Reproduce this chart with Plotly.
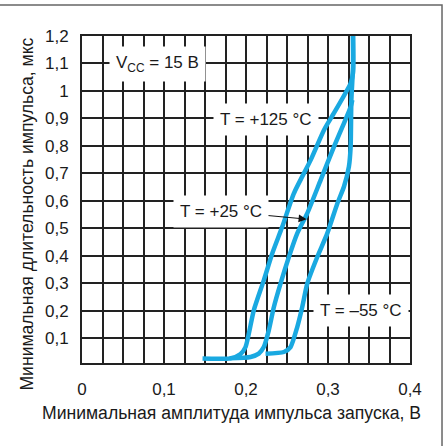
import plotly.graph_objects as go

# Data
x_125 = [0.147, 0.181, 0.193, 0.1994, 0.2095, 0.2217, 0.232, 0.2442, 0.2584, 0.2788, 0.295, 0.307, 0.3276, 0.3305, 0.3305]
y_125 = [0.025, 0.026, 0.041, 0.067, 0.201, 0.310, 0.408, 0.505, 0.627, 0.748, 0.857, 0.918, 1.028, 1.065, 1.2]

x_25 = [0.180, 0.2055, 0.2156, 0.2217, 0.2278, 0.234, 0.2421, 0.2523, 0.2625, 0.2747, 0.291, 0.3072, 0.3194, 0.3276, 0.3297]
y_25 = [0.026, 0.031, 0.043, 0.067, 0.128, 0.213, 0.298, 0.395, 0.481, 0.554, 0.675, 0.796, 0.882, 0.942, 0.967]

x_m55 = [0.2238, 0.2462, 0.2543, 0.2625, 0.2686, 0.2747, 0.2869, 0.2991, 0.3114, 0.3194, 0.3255, 0.3276, 0.3285, 0.3305, 0.3305]
y_m55 = [0.043, 0.049, 0.067, 0.140, 0.213, 0.298, 0.395, 0.481, 0.590, 0.651, 0.724, 0.796, 0.967, 1.088, 1.2]

x_tickvals = [0, 0.1, 0.2, 0.3, 0.4]
x_ticktext = ["0", "0,1", "0,2", "0,3", "0,4"]
y_tickvals = [0.1, 0.2, 0.3, 0.4, 0.5, 0.6, 0.7, 0.8, 0.9, 1.0, 1.1, 1.2]
y_ticktext = ["0,1", "0,2", "0,3", "0,4", "0,5", "0,6", "0,7", "0,8", "0,9", "1", "1,1", "1,2"]

x_title = "Минимальная амплитуда импульса запуска, В"
y_title = "Минимальная длительность импульса, мкс"

CURVE = "#1aa9e1"
GRID = "#222222"
FONT = "Liberation Sans, Arial, sans-serif"

fig = go.Figure()
for xs, ys in [(x_125, y_125), (x_25, y_25), (x_m55, y_m55)]:
    fig.add_trace(go.Scatter(x=xs, y=ys, mode="lines",
                             line=dict(color=CURVE, width=4.5, shape="spline", smoothing=0.6),
                             showlegend=False, hoverinfo="skip"))

ann_font = dict(family=FONT, size=17, color="#1a1a1a")
fig.add_annotation(x=0.0919, y=1.098, xref="x", yref="y", text="V<sub>CC</sub> = 15 В",
                   showarrow=False, bgcolor="white", borderpad=6, font=ann_font)
fig.add_annotation(x=0.2244, y=0.897, xref="x", yref="y", text="T = +125 °C",
                   showarrow=False, bgcolor="white", borderpad=6, font=ann_font)
fig.add_annotation(x=0.2739, y=0.533, xref="x", yref="y", ax=0.1695, ay=0.562,
                   axref="x", ayref="y", text="T = +25 °C",
                   showarrow=True, arrowhead=2, arrowsize=1.6, arrowwidth=1, arrowcolor="#111111",
                   bgcolor="white", borderpad=6, font=ann_font)
fig.add_annotation(x=0.3398, y=0.201, xref="x", yref="y", text="T = –55 °C",
                   showarrow=False, bgcolor="white", borderpad=6, font=ann_font)

# axis titles
fig.add_annotation(x=0.457, y=-0.153, xref="paper", yref="paper", text=x_title,
                   showarrow=False, xanchor="center", yanchor="middle",
                   font=dict(family=FONT, size=17.6, color="#1a1a1a"))
fig.add_annotation(x=-0.1677, y=0.457, xref="paper", yref="paper", text=y_title,
                   showarrow=False, xanchor="center", yanchor="middle", textangle=-90,
                   font=dict(family=FONT, size=17.6, color="#1a1a1a"))

# outer light frame of the picture
fig.add_shape(type="rect", xref="paper", yref="paper", x0=-0.4, x1=1.0976, y0=-0.4, y1=1.0948,
              line=dict(color="#666666", width=1.5), fillcolor="rgba(0,0,0,0)", layer="below")

fig.update_layout(
    width=448, height=446,
    margin=dict(l=82, r=38, t=36, b=83, autoexpand=False),
    paper_bgcolor="white", plot_bgcolor="white",
    font=dict(family=FONT, size=17, color="#1a1a1a"),
)
fig.update_xaxes(range=[0, 0.4], tickvals=x_tickvals, ticktext=x_ticktext,
                 showgrid=False, zeroline=False, automargin=False,
                 minor=dict(dtick=0.025, tick0=0, showgrid=True, gridcolor=GRID, gridwidth=1.5),
                 showline=True, linecolor=GRID, linewidth=2, mirror=True,
                 ticks="", ticklabelstandoff=10, tickfont=dict(size=17))
fig.update_yaxes(range=[0.009, 1.2], tickvals=y_tickvals, ticktext=y_ticktext,
                 showgrid=True, gridcolor=GRID, gridwidth=1.5, zeroline=False, automargin=False,
                 showline=True, linecolor=GRID, linewidth=2, mirror=True,
                 ticks="", ticklabelstandoff=8, tickfont=dict(size=17))

fig.write_html("out.html", config={"displayModeBar": False},
               post_script="document.body.style.margin='0px';document.body.style.overflow='hidden';")
